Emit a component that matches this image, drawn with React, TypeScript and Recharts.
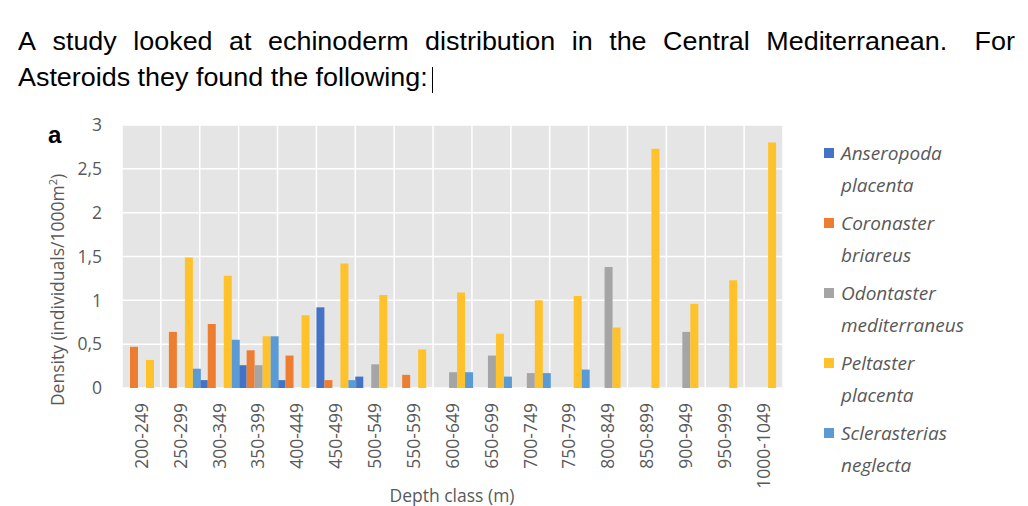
import React from 'react';
import { BarChart, Bar, XAxis, YAxis, CartesianGrid } from 'recharts';

const categories = [
  '200-249', '250-299', '300-349', '350-399', '400-449', '450-499', '500-549', '550-599',
  '600-649', '650-699', '700-749', '750-799', '800-849', '850-899', '900-949', '950-999', '1000-1049',
];
const anseropoda = [0, 0, 0.09, 0.26, 0.09, 0.92, 0.13, 0, 0, 0, 0, 0, 0, 0, 0, 0, 0];
const coronaster = [0.47, 0.64, 0.73, 0.43, 0.37, 0.09, 0, 0.15, 0, 0, 0, 0, 0, 0, 0, 0, 0];
const odontaster = [0, 0, 0, 0.26, 0, 0, 0.27, 0, 0.18, 0.37, 0.17, 0, 1.38, 0, 0.64, 0, 0];
const peltaster = [0.32, 1.49, 1.28, 0.59, 0.83, 1.42, 1.06, 0.44, 1.09, 0.62, 1.0, 1.05, 0.69, 2.73, 0.96, 1.23, 2.8];
const sclerasterias = [0, 0.22, 0.55, 0.59, 0, 0.09, 0, 0, 0.18, 0.13, 0.17, 0.21, 0, 0, 0, 0, 0];
const yTicks = [0, 0.5, 1, 1.5, 2, 2.5, 3];

const series = [
  { key: 'anseropoda', line1: 'Anseropoda', line2: 'placenta', color: '#4472C4', values: anseropoda },
  { key: 'coronaster', line1: 'Coronaster', line2: 'briareus', color: '#ED7D31', values: coronaster },
  { key: 'odontaster', line1: 'Odontaster', line2: 'mediterraneus', color: '#A5A5A5', values: odontaster },
  { key: 'peltaster', line1: 'Peltaster', line2: 'placenta', color: '#FFC22B', values: peltaster },
  { key: 'sclerasterias', line1: 'Sclerasterias', line2: 'neglecta', color: '#5B9BD5', values: sclerasterias },
];

const data = categories.map((c, i) => {
  const row: any = { depth: c };
  series.forEach((s) => {
    row[s.key] = s.values[i];
  });
  return row;
});

const AXIS_FONT = "'Open Sans', 'Noto Sans', sans-serif";
const GREY_TEXT = '#595959';

const XTick = (props: any) => {
  const { x, y, payload } = props;
  return (
    <text
      x={x}
      y={y}
      transform={`rotate(-90 ${x} ${y})`}
      textAnchor="end"
      dy="0.36em"
      fontSize={17.5}
      fontFamily={AXIS_FONT}
      fill={GREY_TEXT}
    >
      {payload.value}
    </text>
  );
};

const vGen = (props: any) => {
  const { offset } = props;
  const n = categories.length;
  const out: number[] = [];
  for (let i = 0; i <= n; i++) out.push(offset.left + (i * offset.width) / n);
  return out;
};

const titleWords = 'A study looked at echinoderm distribution in the Central Mediterranean. For'.split(' ');

export default function App() {
  return (
    <div style={{ position: 'absolute', left: 0, top: 0, width: 1028, height: 506, background: '#fff', overflow: 'hidden' }}>
      {/* Question text */}
      <div
        style={{
          position: 'absolute',
          left: 18,
          top: 23,
          width: 926.6,
          transform: 'scaleX(1.076)',
          transformOrigin: 'left top',
          fontFamily: "'Liberation Sans', Arial, sans-serif",
          fontSize: 25,
          lineHeight: '36px',
          color: '#000',
        }}
      >
        <div style={{ display: 'flex', justifyContent: 'space-between', whiteSpace: 'nowrap' }}>
          {titleWords.map((w, i) => (
            <span key={i} style={i === titleWords.length - 1 ? { marginLeft: 10 } : undefined}>{w}</span>
          ))}
        </div>
        <div>Asteroids they found the following:</div>
      </div>
      <div style={{ position: 'absolute', left: 432, top: 67, width: 1, height: 26, background: '#000' }} />

      {/* panel letter */}
      <div
        style={{
          position: 'absolute',
          left: 48,
          top: 123,
          fontFamily: "'Liberation Sans', Arial, sans-serif",
          fontWeight: 'bold',
          fontSize: 24,
          lineHeight: '24px',
          color: '#000',
        }}
      >
        a
      </div>

      {/* y axis title */}
      <div
        style={{
          position: 'absolute',
          left: 57,
          top: 290,
          transform: 'translate(-50%, -50%) rotate(-90deg)',
          whiteSpace: 'nowrap',
          fontFamily: AXIS_FONT,
          fontSize: 17.5,
          color: GREY_TEXT,
          lineHeight: '20px',
        }}
      >
        Density (individuals/1000m<sup style={{ fontSize: 11, verticalAlign: 'super', lineHeight: 0 }}>2</sup>)
      </div>

      {/* x axis title */}
      <div
        style={{
          position: 'absolute',
          left: 452,
          top: 486,
          transform: 'translateX(-50%)',
          whiteSpace: 'nowrap',
          fontFamily: AXIS_FONT,
          fontSize: 17.5,
          color: GREY_TEXT,
          lineHeight: '19px',
        }}
      >
        Depth class (m)
      </div>

      <div style={{ position: 'absolute', left: 0, top: 0 }}>
        <BarChart
          width={1028}
          height={506}
          data={data}
          margin={{ top: 125, right: 245, bottom: 0, left: 0 }}
          barCategoryGap={0}
          barGap={0}
        >
          <CartesianGrid
            fill="#E5E5E5"
            fillOpacity={1}
            stroke="#FFFFFF"
            strokeWidth={1.5}
            verticalCoordinatesGenerator={vGen}
          />
          <XAxis
            dataKey="depth"
            height={118}
            axisLine={false}
            tickLine={false}
            tickSize={0}
            tickMargin={15}
            interval={0}
            tick={<XTick />}
          />
          <YAxis
            width={122}
            domain={[0, 3]}
            ticks={yTicks}
            axisLine={false}
            tickLine={false}
            tickSize={0}
            tickMargin={20}
            interval={0}
            tickFormatter={(v: number) => String(v).replace('.', ',')}
            tick={{ fontSize: 17.5, fontFamily: AXIS_FONT, fill: GREY_TEXT }}
          />
          {series.map((s) => (
            <Bar key={s.key} dataKey={s.key} fill={s.color} isAnimationActive={false} />
          ))}
        </BarChart>
      </div>

      {/* legend */}
      <div style={{ position: 'absolute', left: 823, top: 137 }}>
        {series.map((s, i) => (
          <div key={s.key} style={{ position: 'absolute', left: 0, top: i * 70, width: 200 }}>
            <div style={{ position: 'absolute', left: 1, top: 11, width: 10, height: 10, background: s.color }} />
            <div
              style={{
                position: 'absolute',
                left: 18,
                top: 0,
                fontFamily: AXIS_FONT,
                fontStyle: 'italic',
                fontSize: 19,
                lineHeight: '32px',
                color: GREY_TEXT,
                whiteSpace: 'nowrap',
              }}
            >
              <div>{s.line1}</div>
              <div>{s.line2}</div>
            </div>
          </div>
        ))}
      </div>
    </div>
  );
}
